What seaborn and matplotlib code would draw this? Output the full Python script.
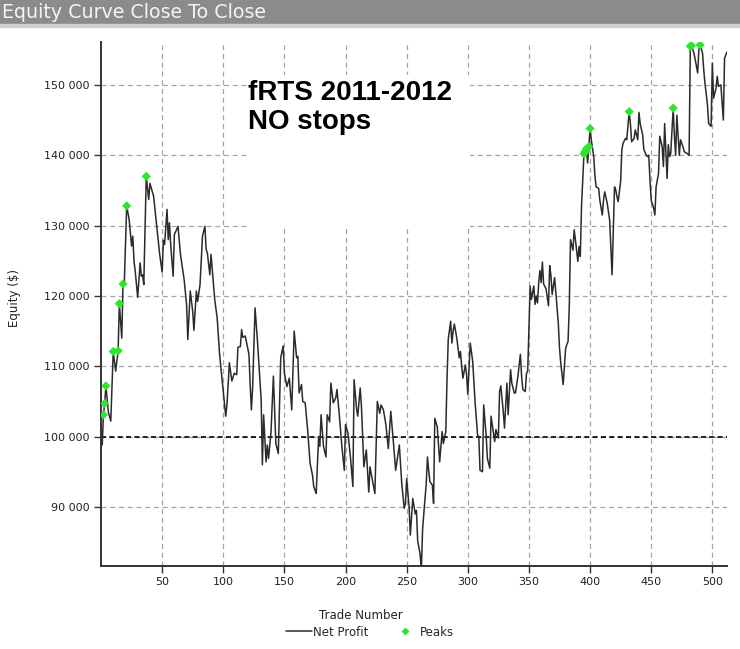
import numpy as np
import pandas as pd
import matplotlib
matplotlib.use('Agg')
import matplotlib.pyplot as plt
from matplotlib.lines import Line2D
from matplotlib.patches import Rectangle
from matplotlib.ticker import FuncFormatter
import seaborn as sns

# starting capital / reference level
start_capital = 100000

# equity, trade number -> equity ($)
trades_1 = [1, 2, 3, 4, 6, 8, 10, 12, 14, 15, 17, 18, 19, 21, 23, 25, 26, 27, 28, 30,
            32, 33, 34, 35, 37, 39, 40, 43, 46, 48, 50, 51, 52, 54, 55, 56, 57, 59, 60, 63,
            65, 68, 70, 71, 73, 75, 76, 78, 79, 81, 83, 85, 86, 87, 89, 90, 92, 93, 95, 97,
            100, 102, 103, 105, 107, 109, 111, 112, 114, 115, 116, 118, 121, 122, 123, 124, 126, 128, 129, 130]
equity_1 = [98800, 103100, 104700, 107200, 103500, 102200, 112100, 109300, 112200, 118900,
            114000, 121700, 121500, 132800, 130900, 127100, 128500, 124900, 123500, 119800,
            124700, 122800, 123000, 121600, 137000, 133700, 136000, 134200, 129200, 125900,
            123400, 127900, 127300, 132300, 128000, 130400, 127300, 122800, 128700, 129900,
            125900, 122300, 118800, 113800, 120700, 117800, 115100, 120700, 119200, 121600,
            128500, 129900, 126600, 126100, 123000, 125900, 121600, 119500, 116900, 111700,
            106400, 102900, 104500, 110500, 107900, 109000, 108800, 112700, 112800, 115200,
            114100, 114300, 111700, 107400, 103800, 106900, 118300, 113500, 110700, 108000]

trades_2 = [131, 132, 133, 135, 136, 137, 139, 141, 143, 145, 147, 149, 150, 152, 154, 156, 158, 160, 161, 162,
            164, 165, 167, 169, 171, 173, 174, 176, 178, 179, 180, 182, 184, 185, 187, 188, 190, 192, 193, 195,
            197, 199, 200, 202, 204, 206, 207, 209, 210, 212, 213, 215, 217, 219, 220, 222, 224, 226, 228, 229,
            231, 233, 235, 237, 239, 241, 243, 244, 246, 248, 249, 250, 252, 253, 255, 257, 258, 259, 261, 262]
equity_2 = [105200, 96000, 103100, 96400, 98800, 96900, 100500, 108600, 99000, 97600,
            111200, 112900, 109000, 107100, 108300, 103800, 115000, 111200, 111400, 106200,
            107400, 105000, 104800, 101000, 96200, 94500, 92900, 91900, 100000, 98600,
            103100, 98600, 97100, 103100, 102100, 107600, 104800, 105500, 106700, 102900,
            98600, 95200, 101700, 100500, 97100, 92900, 108100, 104000, 102900, 106900,
            104300, 95700, 98100, 92100, 95700, 93800, 91900, 105000, 103300, 104500,
            103800, 101700, 98300, 103600, 99500, 95200, 97600, 98800, 93300, 89800,
            90500, 94000, 90000, 86000, 91200, 89000, 89500, 85200, 83300, 81000]

trades_3 = [263, 264, 266, 267, 268, 269, 271, 272, 273, 275, 276, 277, 279, 280, 282, 283, 284, 286, 287, 288,
            289, 291, 293, 294, 295, 296, 298, 299, 300, 302, 304, 306, 308, 309, 310, 312, 313, 315, 316, 318,
            319, 321, 322, 323, 325, 326, 327, 329, 330, 332, 333, 335, 336, 338, 339, 341, 343, 344, 345, 347,
            348, 349, 351, 352, 354, 355, 356, 357, 358, 359, 360, 361, 362, 364, 366, 367, 368, 369, 371, 372,
            374, 375, 376, 378, 380, 381, 382, 383, 384, 386, 387, 388, 390, 391, 392, 393]
equity_3 = [86700, 89000, 93300, 97100, 95200, 93600, 93100, 90500, 102600, 101400,
            98800, 96400, 100700, 99000, 100700, 108100, 113800, 116400, 113300, 115000,
            116000, 114000, 111200, 112100, 110000, 108300, 110200, 108800, 106000, 113300,
            110700, 104800, 100200, 100000, 95200, 95000, 104500, 100200, 96900, 95500,
            102900, 100500, 99300, 101000, 99800, 106400, 107200, 103600, 101200, 107600,
            103100, 109500, 107600, 106200, 106200, 108600, 111700, 108600, 106700, 106400,
            109000, 109300, 121400, 119500, 121400, 118800, 120000, 119000, 121900, 123600,
            121900, 124800, 121700, 121000, 118600, 124300, 122900, 120200, 122600, 120500,
            116200, 112600, 110500, 107400, 112500, 113100, 113500, 118500, 128000, 126500,
            129400, 128000, 124900, 127000, 125600, 132700]

trades_4 = [395, 396, 397, 398, 399, 400, 401, 403, 404, 405, 407, 408, 410, 411, 412, 414, 415, 416, 417, 418,
            420, 421, 422, 423, 425, 426, 427, 429, 430, 432, 433, 434, 436, 437, 439, 440, 441, 443, 444, 446,
            447, 448, 449, 450, 452, 453, 454, 456, 457, 459, 460, 461, 463, 464, 465, 466, 468, 469, 470, 471,
            473, 474, 476, 477, 479, 481, 482, 483, 485, 486, 488, 489, 490, 492, 493, 494, 496, 497, 499, 500,
            501, 503, 504, 505, 507, 509, 510, 512]
equity_4 = [140200, 140500, 140900, 138900, 141200, 143800, 142200, 139800, 137000, 135500,
            135300, 133600, 131500, 133600, 134800, 133200, 132000, 130800, 126800, 123000,
            135500, 135100, 134100, 133400, 136300, 140800, 141700, 142400, 142200, 146200,
            144500, 141900, 142400, 143600, 142200, 146100, 144500, 142900, 140800, 140000,
            139800, 140000, 136500, 133600, 132500, 131500, 135500, 137400, 142700, 141200,
            138400, 144500, 136700, 141500, 139800, 140300, 146700, 142700, 140000, 145700,
            140000, 142200, 141200, 140500, 140300, 140000, 155500, 155600, 154500, 153600,
            151700, 155000, 155700, 154500, 152100, 150200, 147200, 144500, 144100, 153100,
            148100, 149500, 151200, 149800, 150000, 145000, 153800, 154700]

x_ticks = [50, 100, 150, 200, 250, 300, 350, 400, 450, 500]
y_ticks = [90000, 100000, 110000, 120000, 130000, 140000, 150000]

df = pd.DataFrame({
    'trade': np.concatenate([trades_1, trades_2, trades_3, trades_4]),
    'equity': np.concatenate([equity_1, equity_2, equity_3, equity_4]),
})
prev_max = np.maximum.accumulate(np.r_[start_capital, df['equity'].values[:-1]])
peaks = df[df['equity'].values > prev_max]

sns.set_theme(style='whitegrid')
plt.rcParams['font.family'] = ['DejaVu Sans']

W, H = 740, 649
fig = plt.figure(figsize=(W / 100, H / 100), dpi=100)
ax = fig.add_axes([101 / W, 1 - 566 / H, 626 / W, 524 / H])

# title bar
fig.patches.append(Rectangle((0, 1 - 24 / H), 1, 24 / H, transform=fig.transFigure,
                             color='#8b8b89', zorder=0))
fig.patches.append(Rectangle((0, 1 - 27 / H), 1, 3 / H, transform=fig.transFigure,
                             color='#cfcfcd', zorder=0))
fig.text(2 / W, 1 - 12 / H, 'Equity Curve Close To Close', color='#f4f4f4',
         fontsize=13.7, va='center', ha='left')

sns.lineplot(data=df, x='trade', y='equity', ax=ax, color='#2b2b2b', lw=1.1,
             estimator=None, zorder=3)
sns.scatterplot(data=peaks, x='trade', y='equity', ax=ax, marker='D', s=22,
                color='#2fe32f', edgecolor='none', zorder=4)
ax.axhline(start_capital, color='black', lw=1.2, ls=(0, (3, 2)), zorder=2)

ax.set_xlim(0, 512)
ax.set_ylim(81600, 156100)
ax.set_xticks(x_ticks)
ax.set_yticks(y_ticks)
ax.yaxis.set_major_formatter(FuncFormatter(lambda v, p: f'{v:,.0f}'.replace(',', ' ')))
ax.tick_params(axis='both', labelsize=8, colors='#333333', length=5, width=1,
               direction='out', pad=3, left=True, bottom=True)
ax.tick_params(axis='both', labelcolor='#222222')

ax.grid(True, color='#a5a5a5', lw=0.9, ls=(0, (4, 3)))
sns.despine(ax=ax, top=True, right=True)
for s in ['left', 'bottom']:
    ax.spines[s].set_color('#333333')
    ax.spines[s].set_linewidth(1.4)

ax.set_xlabel('Trade Number', fontsize=8.5, color='#222222')
ax.set_ylabel('Equity ($)', fontsize=8.5, color='#222222')
ax.xaxis.set_label_coords(0.415, -0.082)
ax.yaxis.set_label_coords(-0.128, 0.511)

# annotation box
ax.add_patch(Rectangle((0.233, 0.645), 0.356, 0.292, transform=ax.transAxes,
                       facecolor='white', edgecolor='none', zorder=1))
ax.text(0.235, 0.927, 'fRTS 2011-2012\nNO stops', transform=ax.transAxes,
        fontsize=20, fontweight='bold', family=['Liberation Sans', 'DejaVu Sans'],
        va='top', ha='left', linespacing=1.15, color='black', zorder=5)

handles = [Line2D([0], [0], color='#2b2b2b', lw=1.1),
           Line2D([0], [0], marker='D', color='none', markerfacecolor='#2fe32f',
                  markeredgecolor='none', markersize=4.5)]
fig.legend(handles, ['Net Profit', 'Peaks'], loc='center', bbox_to_anchor=(0.5, 1 - 632 / H),
           ncol=2, frameon=False, fontsize=8.5, handlelength=2.2, handletextpad=0.1,
           columnspacing=2.0)

fig.savefig('out.png', dpi=100)
